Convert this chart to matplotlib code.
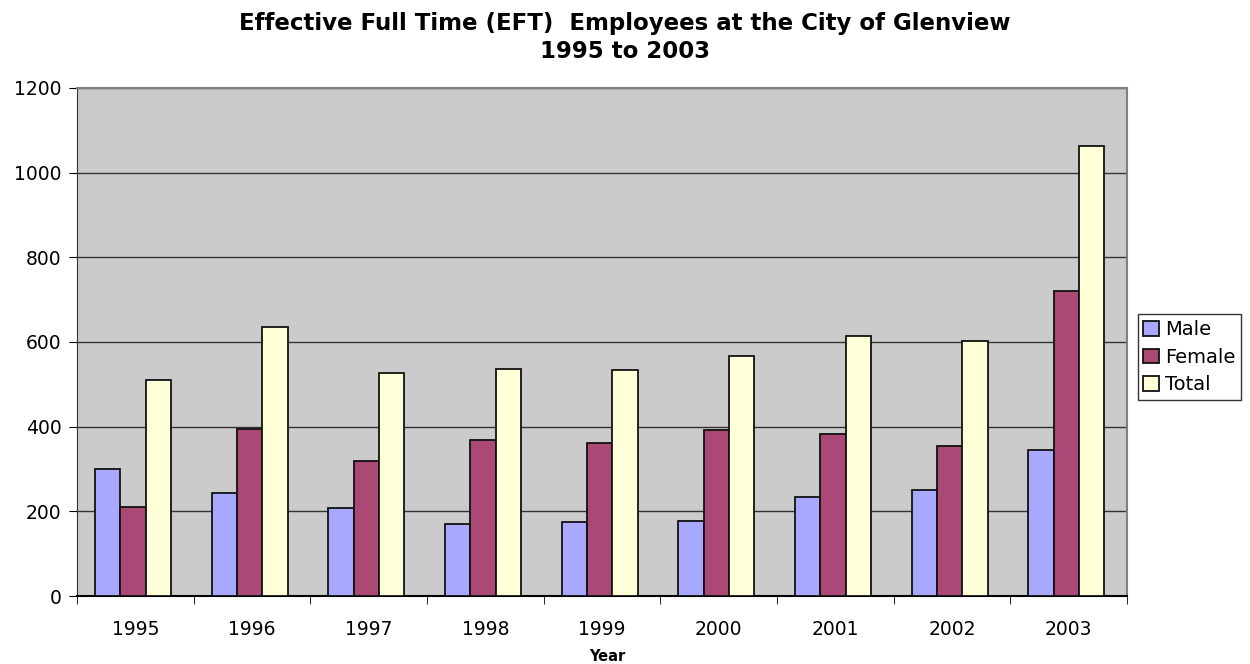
import numpy as np
import matplotlib
matplotlib.use("Agg")
import matplotlib.pyplot as plt

years = ["1995", "1996", "1997", "1998", "1999", "2000", "2001", "2002", "2003"]
male = [300, 244, 208, 171, 175, 177, 234, 250, 346]
female = [210, 395, 320, 368, 362, 392, 382, 355, 720]
total = [510, 636, 527, 537, 535, 566, 614, 603, 1064]

series = [("Male", male, "#A8A8FF"),
          ("Female", female, "#AA4876"),
          ("Total", total, "#FFFFD8")]

plt.rcParams["font.family"] = ["DejaVu Sans"]

fig = plt.figure(figsize=(12.5, 6.64), dpi=100)
ax = fig.add_axes([0.0616, 0.1024, 0.84, 0.7651])
ax.set_facecolor("#CBCBCB")

x = np.arange(len(years))
w = 0.217
for i, (name, vals, col) in enumerate(series):
    ax.bar(x + (i - 1) * w - 0.02, vals, width=w, color=col,
           edgecolor="#111111", linewidth=1.3, label=name, zorder=3)

ax.set_xlim(-0.5, len(years) - 0.5)
ax.set_ylim(0, 1200)
ax.set_yticks(range(0, 1201, 200))
ax.yaxis.grid(True, color="#333333", linewidth=1.0, zorder=1)
ax.set_axisbelow(True)

ax.set_xticks(x)
ax.set_xticklabels(years)
ax.set_xticks(np.arange(-0.5, len(years)), minor=True)
ax.tick_params(axis="x", which="major", length=0, pad=17, labelsize=13.5)
ax.tick_params(axis="x", which="minor", length=6, color="black")
ax.tick_params(axis="y", length=6, labelsize=13.5, pad=5)

for s in ["top", "right"]:
    ax.spines[s].set_color("#808080")
    ax.spines[s].set_linewidth(1.5)
ax.spines["left"].set_color("#333333")
ax.spines["bottom"].set_color("black")
ax.spines["bottom"].set_linewidth(1.5)

fig.text(0.4855, 0.012, "Year", fontsize=10.5, fontweight="bold",
         ha="center", va="center")
fig.suptitle("Effective Full Time (EFT)  Employees at the City of Glenview\n1995 to 2003",
             fontsize=16.5, fontweight="bold", x=0.5, y=0.982, linespacing=1.3)

leg = ax.legend(loc="center left", bbox_to_anchor=(1.01, 0.47), fontsize=14,
                frameon=True, fancybox=False, edgecolor="black",
                handlelength=0.8, handleheight=0.8, handletextpad=0.3,
                borderpad=0.3, labelspacing=0.45, borderaxespad=0)
leg.get_frame().set_linewidth(1.0)

fig.savefig("out.png", dpi=100)
